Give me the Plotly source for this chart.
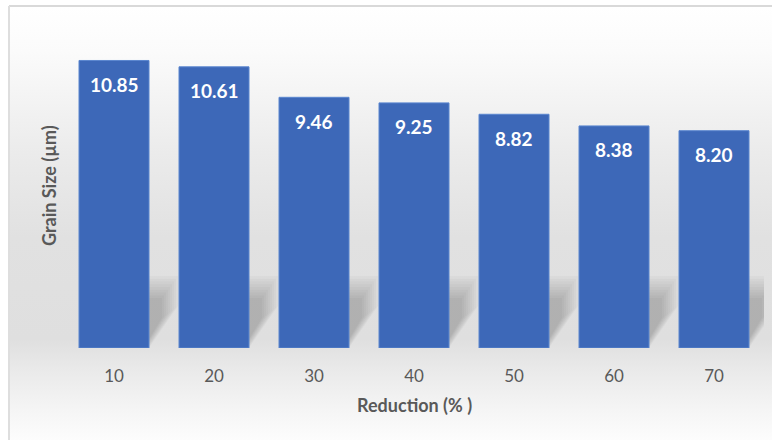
import base64
import plotly.graph_objects as go

# ---- data ----
reduction = [10, 20, 30, 40, 50, 60, 70]
grain_size = [10.85, 10.61, 9.46, 9.25, 8.82, 8.38, 8.20]
value_labels = ["10.85", "10.61", "9.46", "9.25", "8.82", "8.38", "8.20"]
x_title = "Reduction (% )"
y_title = "Grain Size (µm)"

# ---- layout geometry ----
W, H = 772, 440
ML, MR, MT, MB = 64, 8, 30, 92
PW, PH = W - ML - MR, H - MT - MB
XR = [5, 75]
YR = [0, 12]
BAR_W = 7
px_x = PW / (XR[1] - XR[0])      # px per x unit
px_y = PH / (YR[1] - YR[0])      # px per y unit
FONT = "Lato, 'Open Sans', sans-serif"
GRAY = "#595959"


def paper_x(px):
    return (px - ML) / PW


def paper_y(py):
    return (H - MB - py) / PH


# background gradient (vertical) as an SVG image
stops = [(0.0, "#ffffff"), (0.10, "#fbfbfb"), (0.33, "#ebebeb"), (0.52, "#e1e1e1"),
         (0.75, "#dfdfdf"), (0.815, "#e9e9e9"), (0.91, "#f5f5f5"), (1.0, "#ffffff")]
stop_xml = "".join(f'<stop offset="{o}" stop-color="{c}"/>' for o, c in stops)
svg = (f'<svg xmlns="http://www.w3.org/2000/svg" width="100" height="100" preserveAspectRatio="none">'
       f'<defs><linearGradient id="g" x1="0" y1="0" x2="0" y2="1">{stop_xml}</linearGradient></defs>'
       f'<rect width="100" height="100" fill="url(#g)"/></svg>')
svg_uri = "data:image/svg+xml;base64," + base64.b64encode(svg.encode()).decode()

bg_left, bg_top, bg_right, bg_bottom = 10, 7, W + 20, H + 10
fig = go.Figure()

fig.add_trace(go.Bar(
    x=reduction, y=grain_size, width=BAR_W,
    marker=dict(color="#3d68b8", line=dict(color="#5b86cf", width=1)),
    hoverinfo="x+y",
))

shapes = []
# soft cast shadows to the right of each bar (offsets in px converted to data units)
outer = (72, 29, 42, 0)    # top, dx, mid, bottom (px above base)
inner = (50, 13, 30, 9)
N = 9
layers = []
for k in range(N):
    t = k / (N - 1)
    layers.append(tuple(o + (i - o) * t for o, i in zip(outer, inner)))
for xc in reduction:
    xr = xc + BAR_W / 2
    for top, dx, mid, bot in layers:
        pts = [(xc, top), (xr + dx / px_x, top), (xr + dx / px_x, mid), (xr, bot), (xc, bot)]
        path = "M " + " L ".join(f"{x},{y / px_y}" for x, y in pts) + " Z"
        shapes.append(dict(type="path", path=path, xref="x", yref="y", layer="below",
                           fillcolor="rgba(0,0,0,0.025)", line=dict(width=0)))

# chart border (top and left edges)
shapes.append(dict(type="line", xref="paper", yref="paper",
                   x0=paper_x(9), x1=paper_x(W + 20), y0=paper_y(6), y1=paper_y(6),
                   line=dict(color="#d9d9d9", width=2), layer="below"))
shapes.append(dict(type="line", xref="paper", yref="paper",
                   x0=paper_x(9), x1=paper_x(9), y0=paper_y(6), y1=paper_y(H + 10),
                   line=dict(color="#dedede", width=2), layer="below"))

annotations = []
for xv, yv, lab in zip(reduction, grain_size, value_labels):
    annotations.append(dict(x=xv, y=yv, text=f"<b>{lab}</b>", showarrow=False, yanchor="middle",
                            yshift=-24, font=dict(family=FONT, size=19, color="white")))
annotations.append(dict(x=0.5, xref="paper", y=paper_y(405), yref="paper", text=f"<b>{x_title}</b>",
                        showarrow=False, yanchor="middle", xanchor="center",
                        font=dict(family=FONT, size=18, color=GRAY)))
annotations.append(dict(x=paper_x(49), xref="paper", y=paper_y(186), yref="paper", text=f"<b>{y_title}</b>",
                        showarrow=False, textangle=-90, yanchor="middle", xanchor="center",
                        font=dict(family=FONT, size=18, color=GRAY)))

fig.update_layout(
    width=W, height=H,
    margin=dict(l=ML, r=MR, t=MT, b=MB),
    paper_bgcolor="white", plot_bgcolor="rgba(0,0,0,0)",
    showlegend=False,
    shapes=shapes,
    annotations=annotations,
    images=[dict(source=svg_uri, xref="paper", yref="paper",
                 x=paper_x(bg_left), y=paper_y(bg_top),
                 sizex=(bg_right - bg_left) / PW, sizey=(bg_bottom - bg_top) / PH,
                 xanchor="left", yanchor="top", sizing="stretch", layer="below")],
    xaxis=dict(range=XR, tickvals=reduction, ticktext=[str(v) for v in reduction],
               showgrid=False, zeroline=False, showline=False,
               ticks="outside", ticklen=13, tickcolor="rgba(0,0,0,0)",
               tickfont=dict(family=FONT, size=17, color=GRAY), fixedrange=True),
    yaxis=dict(range=YR, visible=False, fixedrange=True),
    font=dict(family=FONT),
)

fig.write_html("out.html")
